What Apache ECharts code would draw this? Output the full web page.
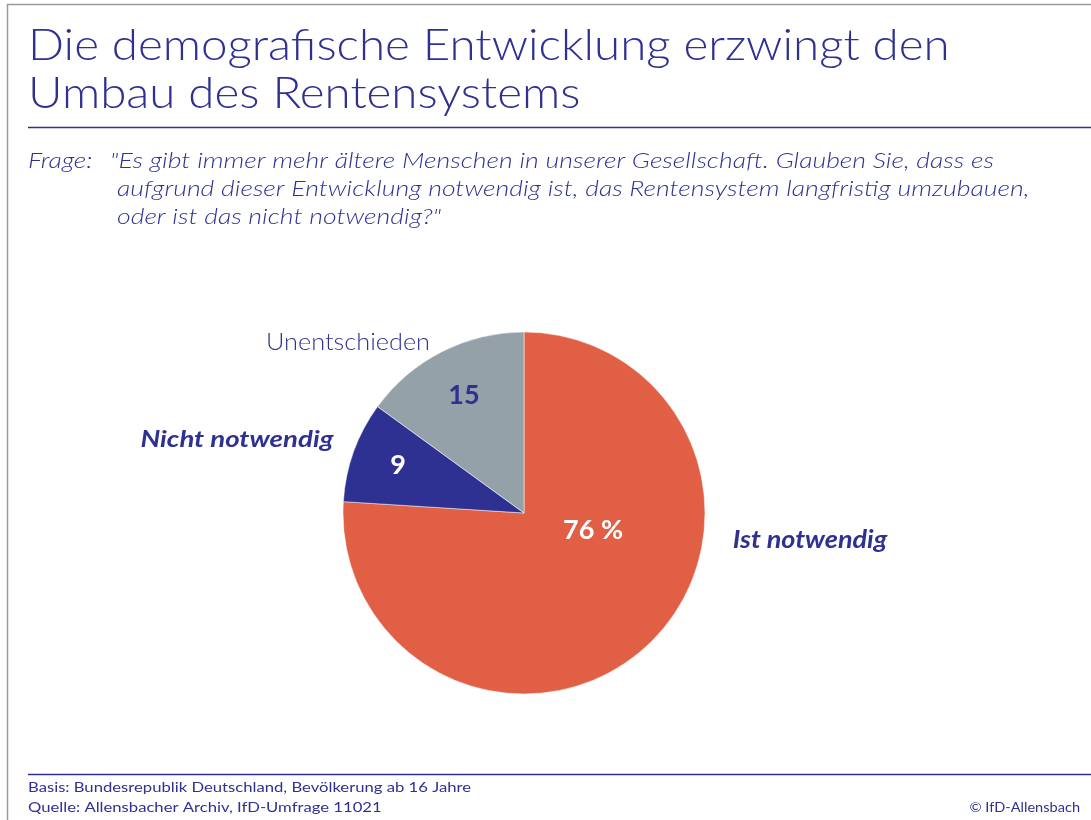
<!DOCTYPE html>
<html><head><meta charset="utf-8">
<script src="https://cdn.jsdelivr.net/npm/echarts@6/dist/echarts.min.js"></script>
<style>html,body{margin:0;padding:0;background:#fff}#c{width:1091px;height:820px}</style>
</head><body><div id="c"></div>
<script>
const categories = ['Ist notwendig', 'Nicht notwendig', 'Unentschieden'];
const values = [76, 9, 15];
const valueLabels = ['76 %', '9', '15'];
const colors = ['#E05F45', '#2E3192', '#95A1A9'];
const titleLines = ['Die demografische Entwicklung erzwingt den', 'Umbau des Rentensystems'];
const questionLines = [
  '"Es gibt immer mehr ältere Menschen in unserer Gesellschaft. Glauben Sie, dass es',
  'aufgrund dieser Entwicklung notwendig ist, das Rentensystem langfristig umzubauen,',
  'oder ist das nicht notwendig?"'
];
const footLeft = ['Basis: Bundesrepublik Deutschland, Bevölkerung ab 16 Jahre', 'Quelle: Allensbacher Archiv, IfD-Umfrage 11021'];
const footRight = '© IfD-Allensbach';

const BLUE = '#2E3192';
const FONT = 'Lato, "Liberation Sans", sans-serif';
const chart = echarts.init(document.getElementById('c'));
function txt(x, y, text, font, o) {
  o = o || {};
  return {type:'text', x:x, y:y, scaleX:o.sx||1, z:o.z||5,
    style:{text:text, fill:o.fill||BLUE, font:font, align:o.align||'left', verticalAlign:'middle'}};
}
const g = [];
g.push({type:'line', shape:{x1:7,y1:4.5,x2:1091,y2:4.5}, style:{stroke:'#9a9a9a', lineWidth:1.5}});
g.push({type:'line', shape:{x1:7.5,y1:4,x2:7.5,y2:820}, style:{stroke:'#9a9a9a', lineWidth:1.5}});
titleLines.forEach((t,i)=>g.push(txt(28, 46+i*48, t, '300 44px '+FONT, {sx:1.08})));
g.push({type:'line', shape:{x1:28,y1:127.5,x2:1091,y2:127.5}, style:{stroke:BLUE, lineWidth:1.5}});
g.push(txt(28, 161, 'Frage:', 'italic 300 22px '+FONT, {sx:1.21}));
questionLines.forEach((t,i)=>g.push(txt(i===0?110:117, 161+i*28, t, 'italic 300 22px '+FONT, {sx:1.21})));
g.push({type:'line', shape:{x1:28,y1:774.5,x2:1091,y2:774.5}, style:{stroke:BLUE, lineWidth:1.5}});
footLeft.forEach((t,i)=>g.push(txt(28, 787+i*20, t, '14px '+FONT, {sx:1.19})));
g.push(txt(1080, 807, footRight, '14px '+FONT, {sx:1.04, align:'right'}));
// category names
const namePos = [[810,540,'italic bold 25px ',1.08],[237,440,'italic bold 23px ',1.2],[348,343,'300 23px ',1.1]];
categories.forEach((c,i)=>g.push(txt(namePos[i][0], namePos[i][1], c, namePos[i][2]+FONT, {sx:namePos[i][3], align:'center'})));
const valPos = [[593,530,'#fff'],[398,465,'#fff'],[464,395,BLUE]];
valueLabels.forEach((v,i)=>g.push(txt(valPos[i][0], valPos[i][1], v, 'bold 27px '+FONT, {fill:valPos[i][2], align:'center', z:10})));

chart.setOption({
  animation:false,
  graphic:g,
  series:[{
    type:'pie', center:[524,513], radius:181, startAngle:90, clockwise:true,
    label:{show:false}, labelLine:{show:false},
    itemStyle:{borderColor:'#fff', borderWidth:0.5},
    data: categories.map((c,i)=>({name:c, value:values[i], itemStyle:{color:colors[i]}}))
  }]
});
</script></body></html>
